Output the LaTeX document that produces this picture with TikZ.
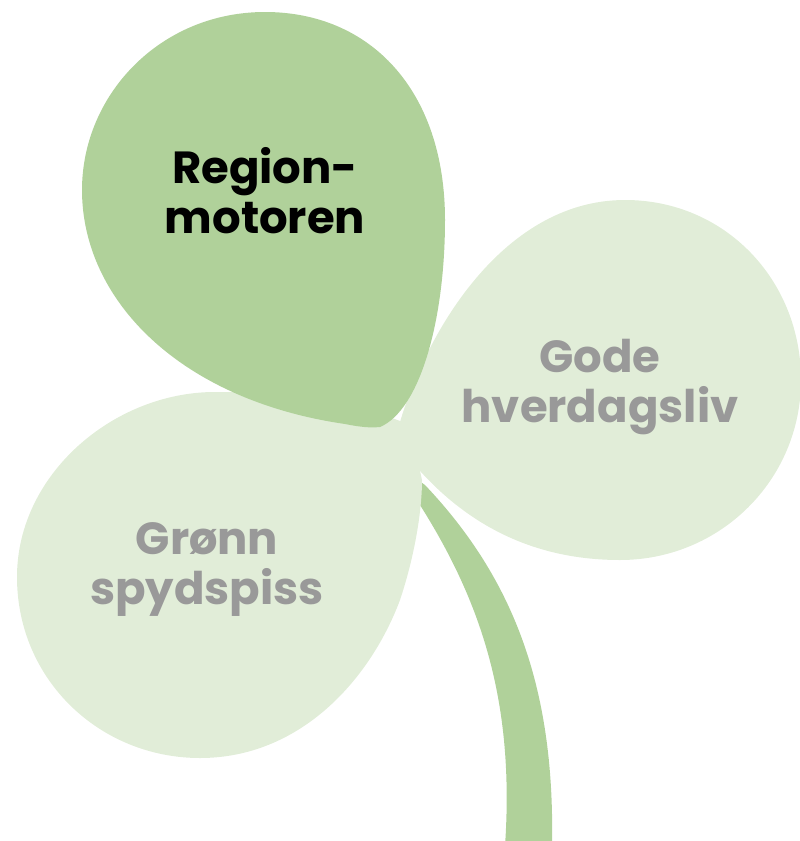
\documentclass[tikz,border=0pt]{standalone}
\usepackage{fontspec}
\setmainfont{Poppins}
\definecolor{leafdark}{HTML}{B0D19A}
\definecolor{leaflight}{HTML}{E1EDD8}
\definecolor{labelgray}{HTML}{999999}
\begin{document}
\begin{tikzpicture}[x=1pt, y=-1pt,
		leaflabel/.style={align=center, inner sep=0pt, font=\fontsize{45}{50}\selectfont\bfseries}]
			\useasboundingbox (0,0) rectangle (800,841);

			\fill[leafdark] (418,480) -- (420,505) .. controls (480,600) and (515,700) .. (505,846)
				-- (552,846) .. controls (555,690) and (515,580) .. (425,485) -- cycle;

			\fill[leaflight] (410,425) .. controls (350,400) and (290,392) .. (215,392)
				.. controls (114,392) and (17,474) .. (17,577)
				.. controls (17,680) and (100,758) .. (200,758)
				.. controls (300,758) and (370,680) .. (400,600)
				.. controls (415,555) and (422,510) .. (422,480) -- cycle;

			\fill[leaflight] (395,440) .. controls (420,340) and (500,200) .. (625,200)
				.. controls (725,200) and (801,280) .. (801,380)
				.. controls (801,480) and (720,560) .. (620,560)
				.. controls (540,560) and (460,530) .. (395,440) -- cycle;

			\fill[leafdark] (380,427) .. controls (420,410) and (445,320) .. (445,220)
				.. controls (445,90) and (370,12) .. (265,12)
				.. controls (160,12) and (82,95) .. (82,190)
				.. controls (82,300) and (180,400) .. (345,424)
				.. controls (360,427) and (370,428) .. (380,427) -- cycle;

			\node[leaflabel, text=black] (region) at (265,191) {Region-\\motoren};
			\node[leaflabel, text=labelgray] (gode) at (600,387) {Gode\\hverdagsliv};
			\node[leaflabel, text=labelgray] (gronn) at (207,570) {Grønn\\spydspiss};
		\end{tikzpicture}
\end{document}
